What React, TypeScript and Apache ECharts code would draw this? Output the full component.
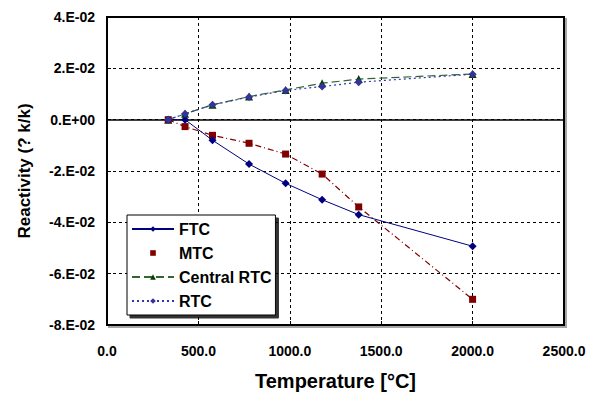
import React, { useEffect, useRef } from "react";
import * as echarts from "echarts";

const temps = [335, 427, 577, 777, 977, 1177, 1377, 2000];
const ftc = [0, 0, -0.008, -0.0173, -0.0248, -0.0312, -0.037, -0.0493];
const mtc = [0, -0.0027, -0.0061, -0.0092, -0.0134, -0.0212, -0.034, -0.07];
const centralRtc = [0, 0.0023, 0.0058, 0.009, 0.0116, 0.0142, 0.0158, 0.0178];
const rtc = [0, 0.0023, 0.0058, 0.0088, 0.0114, 0.0129, 0.0146, 0.0177];

const pairs = (ys: number[]) => temps.map((t, i) => [t, ys[i]]);
const FONT = "'Liberation Sans', Arial, sans-serif";

const fmtY = (v: number) => {
  if (Math.abs(v) < 1e-12) return "0.E+00";
  const s = v < 0 ? "-" : "";
  const a = Math.abs(v);
  const e = Math.floor(Math.log10(a) + 1e-9);
  const m = Math.round(a / Math.pow(10, e));
  const es = e < 0 ? "-" : "+";
  const ea = String(Math.abs(e)).padStart(2, "0");
  return `${s}${m}.E${es}${ea}`;
};

export default function App() {
  const ref = useRef<HTMLDivElement>(null);
  useEffect(() => {
    if (!ref.current) return;
    const chart = echarts.init(ref.current, undefined, { renderer: "svg" });
    const gridLine = { show: true, lineStyle: { color: "#000", type: [3, 3] as any, width: 1 } };
    chart.setOption({
      animation: false,
      backgroundColor: "#fff",
      textStyle: { fontFamily: FONT },
      grid: {
        left: 107, right: 30, top: 17, bottom: 69,
        show: true, borderColor: "#000", borderWidth: 2,
        shadowColor: "rgba(0,0,0,0.35)", shadowOffsetX: 2, shadowOffsetY: 2, shadowBlur: 1,
        backgroundColor: "#fff",
      },
      xAxis: {
        type: "value", min: 0, max: 2500, interval: 500,
        name: "Temperature [°C]", nameLocation: "middle", nameGap: 46,
        nameTextStyle: { fontFamily: FONT, fontWeight: "bold", fontSize: 20, color: "#000" },
        axisLine: { show: true, onZero: false, lineStyle: { color: "#000", width: 2 } },
        axisTick: { show: true, inside: true, length: 4, lineStyle: { color: "#000" } },
        axisLabel: { fontFamily: FONT, fontWeight: "bold", fontSize: 14, color: "#000", margin: 19, formatter: (v: number) => v.toFixed(1) },
        splitLine: gridLine,
      },
      yAxis: {
        type: "value", min: -0.08, max: 0.04, interval: 0.02,
        name: "Reactivity (? k/k)", nameLocation: "middle", nameGap: 74,
        nameTextStyle: { fontFamily: FONT, fontWeight: "bold", fontSize: 17, color: "#000" },
        axisLine: { show: true, onZero: false, lineStyle: { color: "#000", width: 2 } },
        axisTick: { show: true, inside: true, length: 4, lineStyle: { color: "#000" } },
        axisLabel: { fontFamily: FONT, fontWeight: "bold", fontSize: 14, color: "#000", margin: 12, formatter: fmtY },
        splitLine: gridLine,
      },
      legend: {
        orient: "vertical", left: 127, top: 215, width: 149,
        backgroundColor: "#fff", borderColor: "#000", borderWidth: 1,
        shadowColor: "rgba(0,0,0,0.8)", shadowOffsetX: 3, shadowOffsetY: 3, shadowBlur: 0,
        padding: [5, 4, 5, 4], itemGap: 6, itemWidth: 42, itemHeight: 7,
        textStyle: { fontFamily: FONT, fontWeight: "bold", fontSize: 16, color: "#000", lineHeight: 18 },
        data: [
          { name: "FTC" },
          { name: "MTC", lineStyle: { opacity: 0 } as any },
          { name: "Central RTC" },
          { name: "RTC" },
        ],
      },
      series: [
        {
          name: "FTC", type: "line", data: pairs(ftc),
          symbol: "diamond", symbolSize: 8,
          lineStyle: { color: "#000080", width: 1, type: "solid" },
          itemStyle: { color: "#000080" },
          markLine: {
            silent: true, symbol: "none", label: { show: false },
            lineStyle: { color: "#000", type: "solid", width: 1.5 },
            data: [{ yAxis: 0 }],
          },
          z: 5,
        },
        {
          name: "MTC", type: "line", data: pairs(mtc),
          symbol: "rect", symbolSize: 7,
          lineStyle: { color: "#800000", width: 1.2, type: [6, 3, 1, 3] as any },
          itemStyle: { color: "#800000" },
          z: 4,
        },
        {
          name: "Central RTC", type: "line", data: pairs(centralRtc),
          symbol: "triangle", symbolSize: 8,
          lineStyle: { color: "#336633", width: 1.2, type: [8, 4] as any },
          itemStyle: { color: "#004000" },
          z: 3,
        },
        {
          name: "RTC", type: "line", data: pairs(rtc),
          symbol: "diamond", symbolSize: 8,
          lineStyle: { color: "#3333aa", width: 1.2, type: [2, 3] as any },
          itemStyle: { color: "#333399" },
          z: 6,
        },
      ],
    });
    return () => chart.dispose();
  }, []);
  return <div ref={ref} style={{ width: 594, height: 396, position: "absolute", left: 0, top: 0 }} />;
}
